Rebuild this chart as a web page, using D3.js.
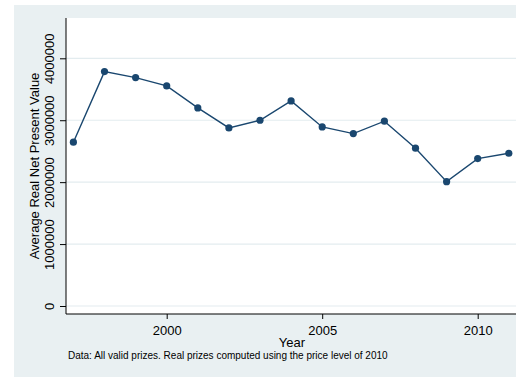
<!DOCTYPE html>
<html>
<head>
<meta charset="utf-8">
<script src="https://cdn.jsdelivr.net/npm/d3@7"></script>
<style>
  html, body { margin: 0; padding: 0; background: #ffffff; }
  svg { display: block; font-family: "Liberation Sans", Arial, Helvetica, sans-serif; }
</style>
</head>
<body>
<svg id="chart" width="516" height="377"></svg>
<script>
// Average real net present value of prizes by year
const years = [1997, 1998, 1999, 2000, 2001, 2002, 2003, 2004, 2005, 2006, 2007, 2008, 2009, 2010, 2011];
const values = [2645000, 3785000, 3688000, 3554000, 3199000, 2876000, 3000000, 3312000, 2892000, 2784000, 2984000, 2548000, 2008000, 2380000, 2467000];
const yTicks = [0, 1000000, 2000000, 3000000, 4000000];
const xTicks = [2000, 2005, 2010];
const xTitle = "Year";
const yTitle = "Average Real Net Present Value";
const note = "Data: All valid prizes. Real prizes computed using the price level of 2010";

const W = 516, H = 377;
const svg = d3.select("#chart");

// graph region
svg.append("rect")
  .attr("x", 14).attr("y", 5)
  .attr("width", W - 14).attr("height", H - 5)
  .attr("fill", "#e9f0f2");

// plot region
const plot = { left: 66, top: 18, right: 518, bottom: 314 };
svg.append("rect")
  .attr("x", plot.left).attr("y", plot.top)
  .attr("width", plot.right - plot.left).attr("height", plot.bottom - plot.top)
  .attr("fill", "#ffffff");

const x = d3.scaleLinear().domain([1997, 2000]).range([73.4, 166.7]);
const y = d3.scaleLinear().domain([0, 4000000]).range([306, 58.3]);

// horizontal grid
svg.append("g")
  .selectAll("line")
  .data(yTicks)
  .join("line")
  .attr("x1", plot.left).attr("x2", plot.right)
  .attr("y1", d => y(d)).attr("y2", d => y(d))
  .attr("stroke", "#e3ecef")
  .attr("stroke-width", 1.2);

// y axis
const yAxis = svg.append("g")
  .attr("transform", `translate(${plot.left},0)`)
  .call(d3.axisLeft(y).tickValues(yTicks).tickFormat(d3.format("d")).tickSize(6).tickSizeOuter(0));
yAxis.select(".domain").remove();
yAxis.append("line")
  .attr("x1", 0).attr("x2", 0)
  .attr("y1", plot.top).attr("y2", plot.bottom)
  .attr("stroke", "#000").attr("stroke-width", 1);
yAxis.selectAll(".tick line").attr("stroke", "#000");
yAxis.selectAll(".tick text")
  .attr("x", null).attr("dy", null)
  .attr("transform", "translate(-12.5,0) rotate(-90)")
  .attr("text-anchor", "middle")
  .attr("font-size", 13)
  .attr("font-family", "Liberation Sans, Arial, sans-serif")
  .attr("fill", "#000");

// x axis
const xAxis = svg.append("g")
  .attr("transform", `translate(0,${plot.bottom})`)
  .call(d3.axisBottom(x).tickValues(xTicks).tickFormat(d3.format("d")).tickSize(5).tickSizeOuter(0));
xAxis.select(".domain").remove();
xAxis.append("line")
  .attr("x1", plot.left).attr("x2", plot.right)
  .attr("y1", 0).attr("y2", 0)
  .attr("stroke", "#000").attr("stroke-width", 1);
xAxis.selectAll(".tick line").attr("stroke", "#000");
xAxis.selectAll(".tick text")
  .attr("y", 20.5).attr("dy", null)
  .attr("font-size", 13)
  .attr("font-family", "Liberation Sans, Arial, sans-serif")
  .attr("fill", "#000");

// titles
svg.append("text")
  .attr("x", (plot.left + plot.right) / 2).attr("y", 347)
  .attr("text-anchor", "middle")
  .attr("font-size", 13)
  .text(xTitle);

svg.append("text")
  .attr("transform", `translate(38.5,${(plot.top + plot.bottom) / 2}) rotate(-90)`)
  .attr("text-anchor", "middle")
  .attr("font-size", 13)
  .text(yTitle);

svg.append("text")
  .attr("x", 68).attr("y", 359)
  .attr("font-size", 10)
  .text(note);

// series
const pts = years.map((yr, i) => [yr, values[i]]);
svg.append("path")
  .datum(pts)
  .attr("fill", "none")
  .attr("stroke", "#1a476f")
  .attr("stroke-width", 1.4)
  .attr("d", d3.line().x(d => x(d[0])).y(d => y(d[1])));

svg.append("g")
  .selectAll("circle")
  .data(pts)
  .join("circle")
  .attr("cx", d => x(d[0]))
  .attr("cy", d => y(d[1]))
  .attr("r", 3.6)
  .attr("fill", "#1a476f");
</script>
</body>
</html>
